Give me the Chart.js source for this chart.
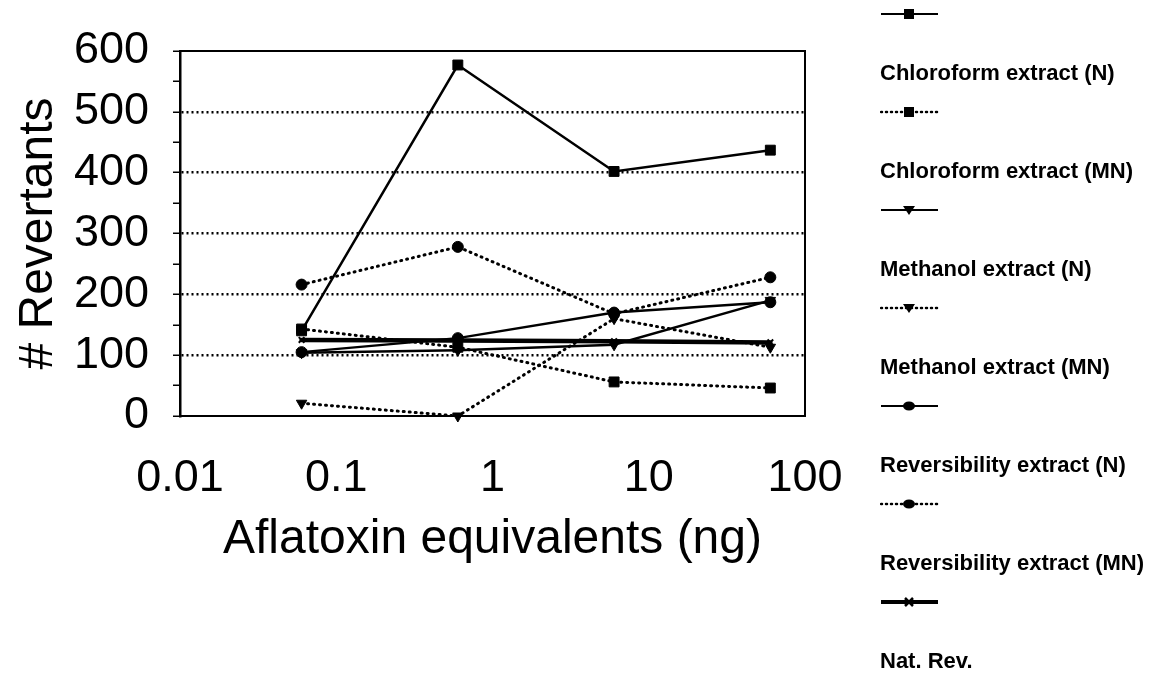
<!DOCTYPE html>
<html>
<head>
<meta charset="utf-8">
<script src="https://cdn.jsdelivr.net/npm/chart.js@4.4.1/dist/chart.umd.min.js"></script>
<style>
  html, body { margin: 0; padding: 0; background: #fff; }
  #wrap { position: relative; width: 1160px; height: 675px; }
  #legend { position: absolute; left: 880px; top: 0; width: 280px; height: 675px;
            font-family: "Liberation Sans", Arial, sans-serif; font-weight: bold; font-size: 22px; color: #000; }
  .sample { position: absolute; left: 0; }
  .label { position: absolute; left: 0; white-space: nowrap; line-height: 22px; }
</style>
</head>
<body>
<div id="wrap">
  <canvas id="chart" width="1160" height="675"></canvas>
  <div id="legend"></div>
</div>
<script>
// dose levels (ng aflatoxin equivalents)
const doses = [0.06, 0.6, 6, 60];
const xTicks = [0.01, 0.1, 1, 10, 100];

// revertant counts per extract
const chloroformN = [140, 577, 402, 437];
const chloroformMN = [143, 113, 56, 46];
const methanolN = [104, 108, 117, 190];
const methanolMN = [21, 0, 160, 113];
const reversibilityN = [105, 128, 170, 187];
const reversibilityMN = [216, 278, 168, 228];
const natRev = [125, 124, 123, 121];

const series = [
  { name: 'Chloroform extract (N)', data: chloroformN, dotted: false, marker: 'rect' },
  { name: 'Chloroform extract (MN)', data: chloroformMN, dotted: true, marker: 'rect' },
  { name: 'Methanol extract (N)', data: methanolN, dotted: false, marker: 'triangle' },
  { name: 'Methanol extract (MN)', data: methanolMN, dotted: true, marker: 'triangle' },
  { name: 'Reversibility extract (N)', data: reversibilityN, dotted: false, marker: 'circle' },
  { name: 'Reversibility extract (MN)', data: reversibilityMN, dotted: true, marker: 'circle' },
  { name: 'Nat. Rev.', data: natRev, dotted: false, marker: 'crossRot', thick: true }
];

const markerRadius = { rect: 7, triangle: 6, circle: 5.5, crossRot: 4 };

const datasets = series.map(s => ({
  label: s.name,
  data: s.data.map((y, i) => ({ x: doses[i], y })),
  borderColor: '#000',
  backgroundColor: '#000',
  borderWidth: s.thick ? 4.5 : (s.dotted ? 3 : 2.5),
  borderDash: s.dotted ? [1, 5] : [],
  borderCapStyle: 'round',
  pointStyle: s.marker,
  rotation: s.marker === 'triangle' ? 180 : 0,
  pointRadius: markerRadius[s.marker],
  pointBorderWidth: s.marker === 'crossRot' ? 2 : 1,
  tension: 0,
  clip: 12
}));

// frame around the plot area
const frame = {
  id: 'frame',
  beforeDatasetsDraw(chart) {
    const a = chart.chartArea, ctx = chart.ctx;
    ctx.save();
    ctx.strokeStyle = '#000';
    ctx.lineWidth = 2;
    ctx.beginPath();
    ctx.moveTo(a.left, a.top);
    ctx.lineTo(a.right, a.top);
    ctx.lineTo(a.right, a.bottom);
    ctx.stroke();
    ctx.restore();
  }
};

const font = 'Liberation Sans, Arial, sans-serif';

new Chart(document.getElementById('chart'), {
  type: 'line',
  data: { datasets },
  options: {
    responsive: false,
    animation: false,
    layout: { padding: { top: 49, right: 355, left: 0, bottom: 0 } },
    plugins: { legend: { display: false }, tooltip: { enabled: false } },
    scales: {
      x: {
        type: 'logarithmic',
        min: 0.01,
        max: 100,
        afterBuildTicks: scale => { scale.ticks = xTicks.map(v => ({ value: v })); },
        afterFit: scale => { scale.height = 259; },
        grid: { display: false, drawTicks: false },
        border: { display: true, color: '#000', width: 2 },
        ticks: {
          color: '#000',
          padding: 4,
          autoSkip: false,
          maxRotation: 0,
          // tall line box pushes the labels well below the axis
          font: { family: font, size: 45, lineHeight: 2.62 },
          callback: v => String(v)
        },
        title: {
          display: true,
          text: 'Aflatoxin equivalents (ng)',
          color: '#000',
          font: { family: font, size: 48 },
          padding: { top: 0, bottom: 106 }
        }
      },
      y: {
        min: 0,
        max: 600,
        afterFit: scale => { scale.width = 180; },
        grid: {
          color: c => (c.tick && c.tick.value % 100 === 0 && c.tick.value > 0 && c.tick.value < 600) ? '#000' : 'rgba(0,0,0,0)',
          lineWidth: 2.5,
          tickColor: '#000',
          tickLength: 7,
          tickWidth: 1.5
        },
        border: { display: true, color: '#000', width: 2.5, dash: [2, 3] },
        ticks: {
          stepSize: 50,
          autoSkip: false,
          color: '#000',
          padding: 24,
          font: { family: font, size: 45 },
          callback: v => (v % 100 === 0 ? v : '')
        },
        title: {
          display: true,
          text: '# Revertants',
          color: '#000',
          font: { family: font, size: 48 },
          padding: { top: 10, bottom: 0 }
        }
      }
    }
  },
  plugins: [frame]
});

// legend: line sample above each label
const legend = document.getElementById('legend');
const step = 98;
series.forEach((s, i) => {
  const cy = 14 + i * step;
  const w = s.thick ? 4 : (s.dotted ? 2.5 : 2);
  const dash = s.dotted ? 'stroke-dasharray="1 4" stroke-linecap="round"' : '';
  let mark = '';
  if (s.marker === 'rect') mark = '<rect x="24" y="3" width="10" height="10" fill="#000"/>';
  if (s.marker === 'circle') mark = '<ellipse cx="29" cy="8" rx="6" ry="4.5" fill="#000"/>';
  if (s.marker === 'triangle') mark = '<polygon points="23,4 35,4 29,13" fill="#000"/>';
  if (s.marker === 'crossRot') mark = '<path d="M25 4 L33 12 M25 12 L33 4" stroke="#000" stroke-width="2.5"/>';
  const svg = `<svg class="sample" style="top:${cy - 8}px" width="60" height="16">
    <line x1="1" y1="8" x2="58" y2="8" stroke="#000" stroke-width="${w}" ${dash}/>${mark}</svg>`;
  const lbl = `<div class="label" style="top:${73 + i * step - 11}px">${s.name}</div>`;
  legend.insertAdjacentHTML('beforeend', svg + lbl);
});
</script>
</body>
</html>
